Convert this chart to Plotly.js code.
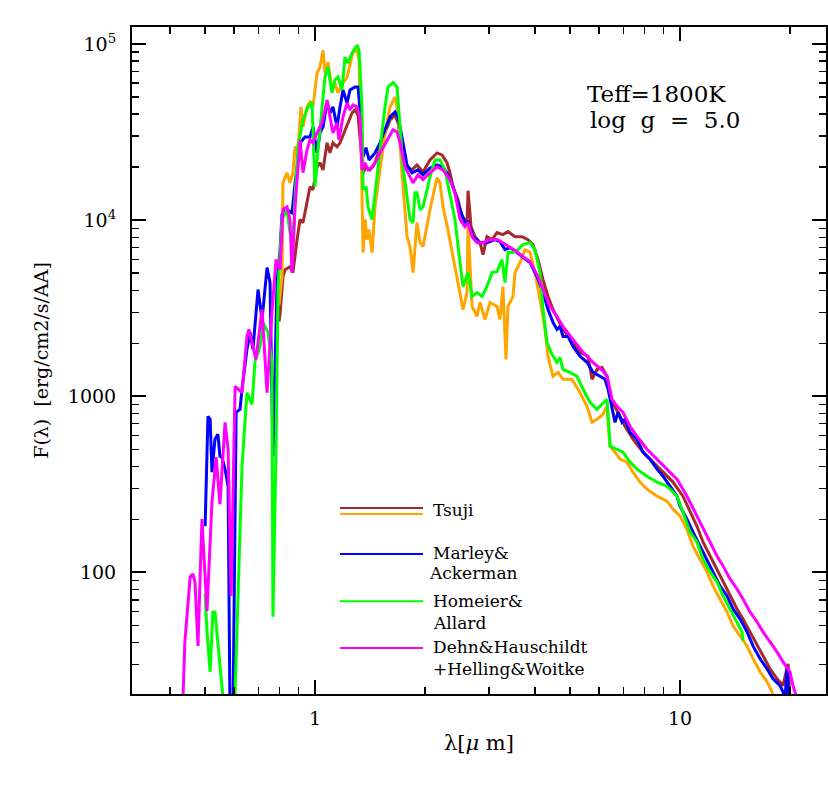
<!DOCTYPE html>
<html>
<head>
<meta charset="utf-8">
<script src="https://cdn.plot.ly/plotly-3.0.1.min.js"></script>
<style>
  html, body { margin: 0; padding: 0; background: #fff; }
  #chart { width: 828px; height: 796px; }
</style>
</head>
<body>
<div id="chart"></div>
<script>
// wavelength in micron, flux in erg/cm2/s/AA

// Tsuji (brown)
const tsujiAWl = [0.797, 0.802, 0.817, 0.828, 0.854, 0.870, 0.893, 0.910, 0.927, 0.951, 0.969, 0.987, 1.013, 1.032, 1.052, 1.079, 1.099, 1.120, 1.149, 1.171, 1.208, 1.231, 1.263, 1.287, 1.312, 1.337, 1.354, 1.380, 1.415, 1.460, 1.507, 1.555, 1.605, 1.657, 1.688, 1.731, 1.787, 1.844, 1.903, 1.977, 2.066, 2.159, 2.228, 2.299, 2.343, 2.388, 2.464, 2.528, 2.609, 2.626, 2.676, 2.744, 2.832, 2.886, 2.959, 3.054, 3.152, 3.273, 3.379, 3.531, 3.690, 3.833, 3.956, 4.083, 4.214, 4.349, 4.488, 4.632, 4.781, 5.091, 5.321, 5.597, 5.740, 5.924, 6.114, 6.310, 6.513, 6.763, 7.068, 7.434, 7.918, 8.434, 8.983, 9.568, 10.19, 10.65, 11.13, 11.56, 12.08, 12.63, 13.12, 13.71, 14.33, 14.88, 15.55, 16.26, 16.88, 17.65, 18.44, 19.15, 19.77, 20.01];
const tsujiAFlux = [2660, 2920, 4790, 5240, 5450, 5040, 7750, 10100, 9680, 13100, 15500, 14900, 20100, 21200, 19300, 27500, 24100, 27500, 26100, 27500, 32600, 35700, 40600, 42300, 39600, 25100, 18600, 20100, 19300, 21200, 26100, 31300, 37100, 39600, 35700, 25100, 20100, 19300, 20600, 18800, 22000, 24100, 23500, 21200, 18600, 15500, 13100, 10500, 9680, 14700, 9190, 8060, 7460, 6380, 8060, 7750, 8500, 8280, 8610, 8060, 8060, 7750, 7270, 5970, 4600, 3690, 3110, 2730, 2400, 2020, 1780, 1690, 1250, 1420, 1460, 1300, 925, 812, 676, 571, 482, 423, 371, 326, 271, 220, 183, 149, 124, 105, 88.4, 73.6, 62.1, 54.5, 46.0, 38.3, 33.7, 28.4, 24.9, 22.8, 30.3, 19.2];

// Tsuji (orange)
const tsujiBWl = [0.797, 0.812, 0.817, 0.838, 0.854, 0.870, 0.882, 0.898, 0.915, 0.927, 0.951, 0.969, 0.987, 1.013, 1.032, 1.052, 1.065, 1.085, 1.113, 1.134, 1.156, 1.193, 1.224, 1.247, 1.271, 1.304, 1.320, 1.337, 1.354, 1.371, 1.388, 1.406, 1.433, 1.460, 1.507, 1.555, 1.605, 1.657, 1.688, 1.731, 1.787, 1.821, 1.856, 1.903, 1.940, 1.977, 2.066, 2.159, 2.200, 2.242, 2.313, 2.388, 2.496, 2.544, 2.609, 2.626, 2.693, 2.779, 2.832, 2.923, 3.017, 3.152, 3.212, 3.273, 3.336, 3.379, 3.487, 3.531, 3.644, 3.761, 3.882, 4.006, 4.135, 4.267, 4.349, 4.488, 4.632, 4.781, 5.059, 5.321, 5.562, 5.740, 5.924, 6.152, 6.310, 6.431, 6.637, 6.849, 7.158, 7.434, 7.770, 8.121, 8.650, 9.213, 9.568, 10.0, 10.45, 10.85, 11.34, 11.86, 12.31, 12.87, 13.45, 13.97, 14.60, 15.26, 15.85, 16.57, 17.31, 17.87, 18.1];
const tsujiBFlux = [3320, 4790, 16300, 18600, 16300, 18600, 26100, 25100, 44000, 33900, 44000, 46900, 44000, 68500, 74100, 92500, 68500, 79100, 54900, 60100, 52800, 60100, 65000, 76000, 90100, 92500, 81200, 28600, 6550, 10100, 7750, 8840, 6550, 11900, 20100, 31300, 44000, 50100, 40600, 18600, 8060, 7080, 5040, 9680, 7460, 7080, 11500, 17400, 16300, 11900, 8840, 6210, 3690, 3110, 3880, 9430, 3240, 2840, 3410, 2730, 3410, 3240, 2730, 4200, 1620, 3240, 3690, 5040, 5740, 6810, 6550, 5040, 3550, 2400, 1690, 1300, 1370, 1250, 1250, 1050, 878, 712, 741, 791, 878, 521, 482, 440, 423, 371, 326, 297, 271, 254, 229, 209, 176, 141, 119, 101, 83.9, 70.8, 59.7, 49.8, 43.7, 38.3, 32.4, 27.3, 24.0, 21.0, 19.2];

// Marley & Ackerman (blue)
const marleyWl = [0.500, 0.509, 0.516, 0.522, 0.532, 0.542, 0.549, 0.556, 0.567, 0.578, 0.585, 0.596, 0.608, 0.623, 0.631, 0.651, 0.664, 0.676, 0.698, 0.716, 0.739, 0.753, 0.767, 0.787, 0.802, 0.812, 0.838, 0.865, 0.882, 0.910, 0.939, 0.969, 0.987, 1.013, 1.032, 1.052, 1.079, 1.099, 1.120, 1.149, 1.171, 1.193, 1.224, 1.247, 1.287, 1.312, 1.337, 1.354, 1.380, 1.406, 1.460, 1.507, 1.555, 1.605, 1.657, 1.688, 1.731, 1.787, 1.844, 1.915, 1.977, 2.066, 2.159, 2.228, 2.299, 2.388, 2.496, 2.576, 2.626, 2.710, 2.832, 2.959, 3.112, 3.212, 3.315, 3.421, 3.576, 3.714, 3.882, 4.057, 4.214, 4.349, 4.488, 4.603, 4.691, 4.781, 4.934, 5.091, 5.321, 5.562, 5.776, 6.037, 6.230, 6.350, 6.513, 6.637, 6.763, 6.936, 7.068, 7.295, 7.625, 7.918, 8.276, 8.650, 8.983, 9.389, 9.813, 10.0, 10.45, 10.85, 11.34, 11.86, 12.31, 12.87, 13.45, 13.97, 14.60, 15.26, 15.85, 16.57, 17.31, 17.98, 18.79, 19.15, 19.40, 19.65, 19.89];
const marleyFlux = [183, 770, 741, 371, 571, 609, 457, 451, 386, 309, 15, 15, 812, 844, 1100, 1850, 2310, 1850, 4040, 2730, 5380, 4430, 457, 4430, 6810, 10740, 11500, 11000, 16300, 27500, 29700, 29700, 33900, 24100, 31300, 33900, 46900, 40600, 44000, 33900, 44000, 54900, 46300, 54900, 57100, 57100, 35700, 22900, 25800, 22000, 24100, 27500, 32600, 38600, 41200, 38600, 29700, 20600, 18600, 19300, 18100, 19800, 20600, 20100, 18600, 15500, 11500, 9680, 9800, 8060, 7460, 7460, 7750, 7550, 6810, 6990, 6550, 6130, 5740, 4790, 3880, 3110, 2630, 2400, 2490, 2190, 2190, 1920, 1690, 1560, 1370, 1300, 1250, 1100, 844, 712, 812, 712, 741, 625, 571, 482, 440, 386, 352, 309, 271, 238, 201, 170, 141, 119, 101, 83.9, 73.6, 62.1, 54.5, 46.0, 38.3, 32.4, 28.4, 24.9, 22.8, 21.0, 19.2, 29.1, 18];

// Homeier & Allard (green)
const homeierWl = [0.500, 0.506, 0.516, 0.525, 0.532, 0.546, 0.560, 0.567, 0.598, 0.604, 0.631, 0.651, 0.672, 0.685, 0.707, 0.720, 0.743, 0.762, 0.767, 0.782, 0.792, 0.812, 0.838, 0.854, 0.870, 0.882, 0.898, 0.927, 0.957, 0.981, 1.000, 1.019, 1.045, 1.065, 1.085, 1.113, 1.134, 1.156, 1.186, 1.208, 1.231, 1.263, 1.304, 1.320, 1.345, 1.354, 1.380, 1.397, 1.433, 1.460, 1.507, 1.555, 1.585, 1.636, 1.678, 1.710, 1.742, 1.787, 1.821, 1.856, 1.879, 1.903, 1.940, 1.977, 2.066, 2.132, 2.200, 2.270, 2.343, 2.418, 2.496, 2.544, 2.626, 2.693, 2.779, 2.868, 2.959, 3.054, 3.152, 3.253, 3.315, 3.379, 3.487, 3.598, 3.714, 3.882, 4.006, 4.135, 4.214, 4.321, 4.460, 4.603, 4.691, 4.781, 4.996, 5.221, 5.423, 5.668, 5.924, 6.114, 6.310, 6.431, 6.721, 6.980, 7.295, 7.625, 8.121, 8.650, 9.213, 9.813, 10.19, 10.65, 11.13, 11.56, 12.08, 12.63, 13.12, 13.71, 14.33, 14.79, 14.88];
const homeierFlux = [75.5, 46.0, 27.3, 59.7, 59.7, 34.5, 19.2, 12, 12, 21.0, 401, 1050, 901, 1580, 1920, 2630, 2310, 1560, 56.0, 501, 4040, 10100, 11500, 8500, 7750, 13600, 26100, 37100, 44000, 46900, 15500, 25100, 44000, 65000, 74100, 52800, 62500, 65000, 54900, 84400, 78000, 88900, 98700, 92500, 44000, 14900, 15500, 11900, 10100, 14300, 25100, 44000, 57100, 60500, 57100, 32600, 20100, 13600, 10100, 9680, 14300, 14300, 11500, 11900, 17600, 22000, 22000, 19300, 13600, 10100, 5740, 4200, 5040, 3690, 3880, 3690, 4200, 5040, 5110, 5970, 4430, 6550, 6550, 6810, 7270, 7460, 6810, 5040, 3110, 2020, 1730, 1560, 1660, 1420, 1370, 1300, 1100, 925, 844, 901, 962, 521, 501, 482, 423, 386, 352, 326, 309, 271, 220, 170, 149, 119, 101, 88.4, 73.6, 62.1, 52.4, 46.0, 40.9];

// Dehn & Hauschildt + Helling & Woitke (magenta)
const dehnWl = [0.433, 0.440, 0.455, 0.463, 0.469, 0.478, 0.490, 0.506, 0.522, 0.536, 0.549, 0.567, 0.578, 0.589, 0.604, 0.631, 0.651, 0.659, 0.689, 0.716, 0.739, 0.762, 0.782, 0.802, 0.817, 0.838, 0.854, 0.865, 0.882, 0.910, 0.927, 0.951, 0.969, 0.987, 1.013, 1.045, 1.065, 1.079, 1.099, 1.120, 1.149, 1.163, 1.193, 1.224, 1.247, 1.271, 1.304, 1.328, 1.345, 1.371, 1.397, 1.442, 1.507, 1.575, 1.636, 1.678, 1.710, 1.764, 1.821, 1.856, 1.915, 1.977, 2.066, 2.159, 2.242, 2.343, 2.418, 2.496, 2.576, 2.626, 2.693, 2.779, 2.886, 3.017, 3.172, 3.273, 3.421, 3.576, 3.714, 3.882, 4.057, 4.214, 4.404, 4.603, 4.781, 5.091, 5.423, 5.776, 6.152, 6.310, 6.513, 6.721, 6.980, 7.295, 7.625, 8.121, 8.650, 9.213, 9.813, 10.45, 10.99, 11.56, 12.08, 12.63, 13.12, 13.71, 14.33, 14.88, 15.55, 16.26, 16.88, 17.65, 18.44, 19.15, 20.01, 20.39, 20.91, 21.3];
const dehnFlux = [15, 40.4, 94.3, 98.1, 88.4, 38.3, 201, 60.5, 251, 451, 244, 712, 501, 73.6, 1140, 1050, 2190, 2400, 1620, 3110, 1050, 2990, 5970, 5240, 11500, 11900, 10100, 5040, 11900, 28600, 18600, 25100, 28600, 27500, 31300, 35700, 42300, 48200, 38600, 31300, 35700, 28600, 38600, 46300, 42300, 45100, 44000, 38600, 19300, 21200, 19300, 20100, 24100, 28600, 32600, 31700, 27500, 20100, 17600, 16300, 18100, 17000, 18600, 20100, 19300, 17000, 14300, 10100, 9190, 9680, 8060, 7460, 7460, 7750, 7750, 7460, 6990, 6630, 6210, 5820, 4910, 4040, 3240, 2840, 2490, 2100, 1780, 1560, 1390, 1300, 962, 878, 812, 676, 593, 501, 440, 386, 339, 271, 220, 176, 149, 124, 109, 91.9, 80.6, 70.8, 59.7, 52.4, 46.0, 40.4, 35.4, 31.1, 27.3, 22.8, 19.2, 17];

const seriesList = [
  { wl: tsujiAWl, flux: tsujiAFlux, color: '#a52a2a' },
  { wl: tsujiBWl, flux: tsujiBFlux, color: '#ffa500' },
  { wl: marleyWl, flux: marleyFlux, color: '#0000ff' },
  { wl: homeierWl, flux: homeierFlux, color: '#00ff00' },
  { wl: dehnWl, flux: dehnFlux, color: '#ff00ff' }
];

const traces = seriesList.map(s => ({
  type: 'scatter',
  mode: 'lines',
  x: s.wl,
  y: s.flux,
  line: { color: s.color, width: 3 },
  hoverinfo: 'skip'
}));

const font = 'DejaVu Serif, Liberation Serif, serif';

const minorX = [0.4, 0.5, 0.6, 0.7, 0.8, 0.9, 2, 3, 4, 5, 6, 7, 8, 9, 20];
const minorY = [];
[10, 100, 1000, 10000].forEach(d => {
  for (let k = 2; k <= 9; k++) minorY.push(k * d);
});

// legend drawn inside the plot: coloured line + label lines
const legendRows = [
  { color: '#a52a2a', y: 0.279 },
  { color: '#ffa500', y: 0.270 },
  { color: '#0000ff', y: 0.210 },
  { color: '#00ff00', y: 0.139 },
  { color: '#ff00ff', y: 0.069 }
];
const legendLabels = [
  { text: 'Tsuji', x: 0.4308, y: 0.276 },
  { text: 'Marley&', x: 0.4308, y: 0.212 },
  { text: 'Ackerman', x: 0.4251, y: 0.181 },
  { text: 'Homeier&', x: 0.4308, y: 0.139 },
  { text: 'Allard', x: 0.4308, y: 0.107 },
  { text: 'Dehn&Hauschildt', x: 0.4308, y: 0.070 },
  { text: '+Helling&Woitke', x: 0.4308, y: 0.037 }
];

const shapes = legendRows.map(r => ({
  type: 'line', xref: 'paper', yref: 'paper',
  x0: 0.2997, x1: 0.4193, y0: r.y, y1: r.y,
  line: { color: r.color, width: 2 }
}));

const annotations = legendLabels.map(l => ({
  xref: 'paper', yref: 'paper', x: l.x, y: l.y,
  xanchor: 'left', yanchor: 'middle', showarrow: false,
  text: l.text, font: { family: font, size: 17, color: '#000' }
}));
annotations.push(
  { xref: 'paper', yref: 'paper', x: 0.6527, y: 0.900, xanchor: 'left', yanchor: 'middle',
    showarrow: false, text: 'Teff=1800K', font: { family: font, size: 23, color: '#000' } },
  { xref: 'paper', yref: 'paper', x: 0.657, y: 0.860, xanchor: 'left', yanchor: 'middle',
    showarrow: false, text: 'log  g  =  5.0', font: { family: font, size: 23, color: '#000' } }
);

const axisCommon = {
  type: 'log',
  showgrid: false,
  zeroline: false,
  showline: true,
  linecolor: '#000',
  linewidth: 2,
  mirror: 'ticks',
  ticks: 'inside',
  ticklen: 14,
  tickwidth: 2,
  tickcolor: '#000',
  tickmode: 'array',
  tickfont: { family: font, size: 19, color: '#000' }
};

const layout = {
  width: 828,
  height: 796,
  margin: { l: 132, r: 2, t: 27, b: 102 },
  paper_bgcolor: '#fff',
  plot_bgcolor: '#fff',
  showlegend: false,
  xaxis: Object.assign({}, axisCommon, {
    range: [-0.5014, 1.4],
    tickvals: [1, 10],
    ticktext: ['1', '10'],
    ticklabelstandoff: 6,
    minor: { tickmode: 'array', tickvals: minorX, ticks: 'inside', ticklen: 7, tickwidth: 1.5, tickcolor: '#000' },
    title: { text: 'λ[<i>μ</i> m]', font: { family: font, size: 21, color: '#000' }, standoff: 8 }
  }),
  yaxis: Object.assign({}, axisCommon, {
    range: [1.31, 5.097],
    tickvals: [100, 1000, 10000, 100000],
    ticktext: ['100', '1000', '10<sup>4</sup>', '10<sup>5</sup>'],
    ticklabelstandoff: 10,
    minor: { tickmode: 'array', tickvals: minorY, ticks: 'inside', ticklen: 7, tickwidth: 1.5, tickcolor: '#000' },
    title: { text: 'F(λ)  [erg/cm2/s/AA]', font: { family: font, size: 19, color: '#000' }, standoff: 14 }
  }),
  shapes: shapes,
  annotations: annotations
};

Plotly.newPlot('chart', traces, layout, { staticPlot: true });
</script>
</body>
</html>
